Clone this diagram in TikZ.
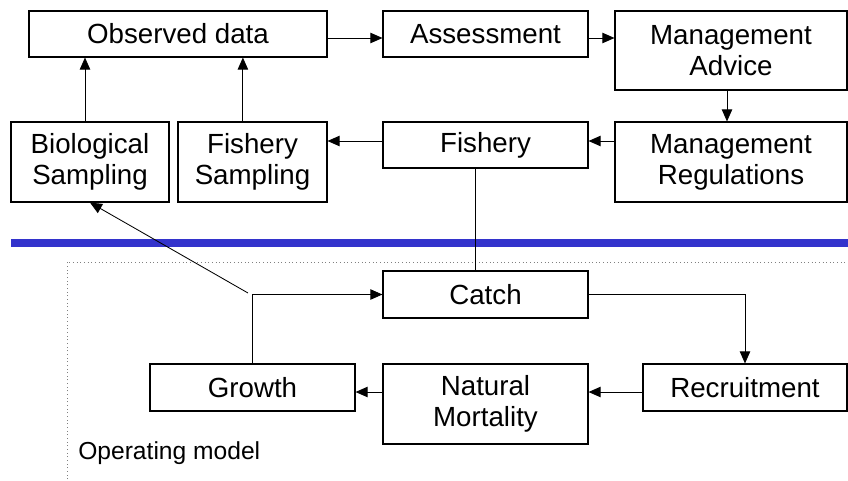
\documentclass[tikz,border=0pt]{standalone}
\usepackage{fontspec}
\setmainfont{Liberation Sans}
\usetikzlibrary{arrows.meta,calc}

\begin{document}
\begin{tikzpicture}[x=0.025cm,y=-0.025cm,>={Triangle[length=3mm,width=2.6mm]},
  box/.style={draw,line width=0.8pt,inner sep=0pt,align=center,
    font=\fontsize{19.7}{22}\selectfont},
  link/.style={line width=0.6pt}]
\useasboundingbox (0,0) rectangle (848,480);
% management side
\node[box,minimum width=7.45cm,minimum height=1.15cm] (obs) at (178,34) {Observed data};
\node[box,minimum width=5.125cm,minimum height=1.15cm] (assess) at (485.5,34) {Assessment};
\node[box,minimum width=5.8cm,minimum height=1.975cm] (advice) at (731,50.5) {Management\\Advice};
\node[box,minimum width=5.8cm,minimum height=2cm] (regs) at (731,162) {Management\\Regulations};
\node[box,minimum width=5.125cm,minimum height=1.15cm] (fishery) at (485.5,145) {Fishery};
\node[box,minimum width=3.725cm,minimum height=2cm] (fsamp) at (252.5,162) {Fishery\\Sampling};
\node[box,minimum width=3.95cm,minimum height=2cm] (bsamp) at (90,162) {Biological\\Sampling};
% operating model
\draw[line width=5pt,color={rgb,255:red,51;green,51;blue,204}] (11,243) -- (860,243);
\draw[dotted,gray,line width=0.6pt] (67,490) -- (67,262) -- (860,262);
\node[anchor=base west,inner sep=0pt,font=\fontsize{17.5}{20}\selectfont] (opm) at (78,459) {Operating model};
\node[box,minimum width=5.125cm,minimum height=1.175cm] (catch) at (485.5,294.5) {Catch};
\node[box,minimum width=5.125cm,minimum height=1.175cm] (growth) at (252.5,387.5) {Growth};
\node[box,minimum width=5.125cm,minimum height=2cm] (natmort) at (485.5,404) {Natural\\Mortality};
\node[box,minimum width=5.1cm,minimum height=1.175cm] (recruit) at (745,387.5) {Recruitment};
\coordinate (bend) at (248,293);

\draw[link,->] (obs.east |- 0,38) -- (assess.west |- 0,38);
\draw[link,->] (assess.east |- 0,38) -- (advice.west |- 0,38);
\draw[link,->] ([xshift=-0.1cm]advice.south) -- ([xshift=-0.1cm]regs.north);
\draw[link,->] (regs.west |- 0,141) -- (fishery.east |- 0,141);
\draw[link,->] (fishery.west |- 0,141) -- (fsamp.east |- 0,141);
\draw[link,->] ([xshift=-0.24cm]fsamp.north) -- ([xshift=-0.24cm]fsamp.north |- obs.south);
\draw[link,->] ([xshift=-0.125cm]bsamp.north) -- ([xshift=-0.125cm]bsamp.north |- obs.south);
\draw[link] ([xshift=-0.25cm]fishery.south) -- ([xshift=-0.25cm]catch.north);
\draw[link,->] (bend) -- (bsamp.south);
\draw[link,->] (growth.north) |- (catch.west);
\draw[link,->] (catch.east) -| (recruit.north);
\draw[link,->] (recruit.west |- 0,392) -- (natmort.east |- 0,392);
\draw[link,->] (natmort.west |- 0,392) -- (growth.east |- 0,392);
\end{tikzpicture}
\end{document}
